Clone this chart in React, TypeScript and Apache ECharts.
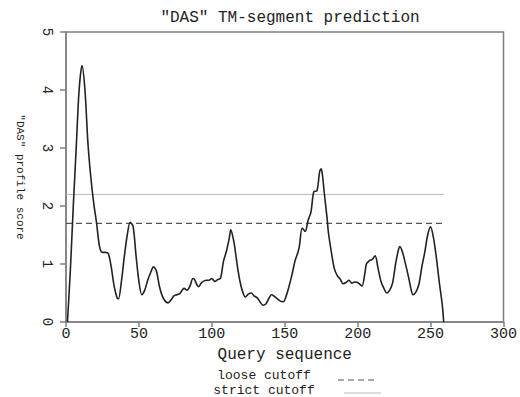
import React, { useEffect, useRef } from "react";
import * as echarts from "echarts";

const title = '"DAS" TM-segment prediction';
const xName = "Query sequence";
const yName = '"DAS" profile score';
const legendLabels = ["loose cutoff", "strict cutoff"];

const positions = [
  1, 3, 5, 7, 9, 11, 13, 15, 17, 19, 21, 23, 25, 27, 29, 31, 33, 35, 36, 38,
  40, 42, 44, 46, 48, 50, 52, 54, 56, 58, 60, 62, 64, 66, 68, 70, 72, 74, 76, 78,
  80, 81, 83, 85, 87, 88, 90, 91, 93, 96, 98, 100, 102, 104, 106, 108, 110, 112, 113, 115,
  116, 118, 120, 122, 123, 125, 127, 129, 131, 133, 135, 137, 139, 141, 143, 145, 147, 149, 151, 153,
  155, 157, 159, 160, 162, 164, 166, 168, 170, 172, 174, 175, 176, 177, 179, 180, 182, 184, 186, 188,
  190, 192, 194, 196, 198, 200, 201, 203, 205, 206, 208, 210, 212, 214, 216, 218, 220, 222, 224, 226,
  228, 229, 231, 233, 235, 237, 238, 240, 242, 244, 246, 248, 250, 252, 254, 256, 258, 259,
];
const scores = [
  0.0, 0.9, 2.0, 3.0, 4.0, 4.42, 4.0, 3.1, 2.5, 2.05, 1.7, 1.3, 1.2, 1.2, 1.18, 0.95, 0.62, 0.42, 0.4, 0.7,
  1.13, 1.5, 1.72, 1.65, 1.15, 0.7, 0.47, 0.55, 0.72, 0.85, 0.95, 0.88, 0.62, 0.45, 0.36, 0.33, 0.38, 0.45, 0.47, 0.49,
  0.56, 0.58, 0.55, 0.62, 0.75, 0.74, 0.63, 0.61, 0.68, 0.72, 0.72, 0.75, 0.7, 0.73, 0.76, 1.05, 1.22, 1.45, 1.59, 1.4,
  1.24, 0.88, 0.62, 0.46, 0.43, 0.48, 0.5, 0.45, 0.42, 0.35, 0.29, 0.31, 0.4, 0.47, 0.44, 0.4, 0.36, 0.35, 0.45, 0.62,
  0.82, 1.05, 1.2, 1.3, 1.62, 1.56, 1.75, 1.9, 2.25, 2.26, 2.6, 2.64, 2.5, 2.25, 1.8, 1.53, 1.2, 0.92, 0.8, 0.74,
  0.66, 0.68, 0.72, 0.67, 0.69, 0.68, 0.66, 0.62, 0.85, 1.0, 1.06, 1.08, 1.14, 0.92, 0.7, 0.58, 0.5, 0.55, 0.68, 1.0,
  1.25, 1.3, 1.18, 0.98, 0.76, 0.52, 0.47, 0.52, 0.65, 0.95, 1.2, 1.5, 1.64, 1.45, 1.1, 0.68, 0.3, 0.0,
];
const looseCutoff = 1.7;
const strictCutoff = 2.2;
const cutoffStart = 0;
const cutoffEnd = 259;
const xTicks = [0, 300, 50];
const yTicks = [0, 5, 1];

const FONT = "'Liberation Mono', 'DejaVu Sans Mono', monospace";

export default function App() {
  const ref = useRef<HTMLDivElement>(null);
  useEffect(() => {
    if (!ref.current) return;
    const chart = echarts.init(ref.current, null, { renderer: "svg" });
    const axisColor = "#808080";
    const textColor = "#222";
    chart.setOption({
      animation: false,
      backgroundColor: "#fff",
      title: {
        text: title,
        left: 285,
        textAlign: "center",
        top: 5,
        textStyle: { fontFamily: FONT, fontSize: 16, fontWeight: "normal", color: textColor },
      },
      grid: {
        left: 66,
        right: 15,
        top: 32,
        bottom: 75,
        show: true,
        borderColor: axisColor,
        borderWidth: 1.5,
        backgroundColor: "transparent",
      },
      xAxis: {
        type: "value",
        min: xTicks[0],
        max: xTicks[1],
        interval: xTicks[2],
        name: xName,
        nameLocation: "middle",
        nameGap: 24,
        nameTextStyle: { fontFamily: FONT, fontSize: 16, color: textColor },
        axisLine: { show: true, lineStyle: { color: axisColor, width: 1.5 } },
        axisTick: { show: true, length: 5, lineStyle: { color: axisColor, width: 1.5 } },
        axisLabel: { fontFamily: FONT, fontSize: 15, color: textColor, margin: 5 },
        splitLine: { show: false },
      },
      yAxis: {
        type: "value",
        min: yTicks[0],
        max: yTicks[1],
        interval: yTicks[2],
        name: yName,
        nameLocation: "middle",
        nameRotate: -90,
        nameGap: 41,
        nameTextStyle: { fontFamily: FONT, fontSize: 11, color: textColor },
        axisLine: { show: true, lineStyle: { color: axisColor, width: 1.5 } },
        axisTick: { show: true, length: 6, lineStyle: { color: axisColor, width: 1.5 } },
        axisLabel: { fontFamily: FONT, fontSize: 14, color: textColor, rotate: -90, margin: 12 },
        splitLine: { show: false },
      },
      series: [
        {
          name: "strict cutoff",
          type: "line",
          symbol: "none",
          data: [
            [cutoffStart, strictCutoff],
            [cutoffEnd, strictCutoff],
          ],
          lineStyle: { color: "#b8b8b8", width: 1 },
          z: 1,
        },
        {
          name: "loose cutoff",
          type: "line",
          symbol: "none",
          data: [
            [cutoffStart, looseCutoff],
            [cutoffEnd, looseCutoff],
          ],
          lineStyle: { color: "#555", width: 1.2, type: [6, 4] },
          z: 1,
        },
        {
          name: "DAS",
          type: "line",
          symbol: "none",
          smooth: 0.3,
          data: positions.map((p, i) => [p, scores[i]]),
          lineStyle: { color: "#222", width: 1.6 },
          z: 3,
        },
      ],
      graphic: [
        {
          type: "text",
          x: 264,
          y: 375,
          style: {
            text: legendLabels[0],
            font: `13px ${FONT}`,
            fill: textColor,
            align: "center",
            verticalAlign: "middle",
          },
        },
        {
          type: "line",
          shape: { x1: 338, y1: 380, x2: 376, y2: 380 },
          style: { stroke: "#555", lineWidth: 1.2, lineDash: [6, 4] },
        },
        {
          type: "text",
          x: 264,
          y: 390,
          style: {
            text: legendLabels[1],
            font: `13px ${FONT}`,
            fill: textColor,
            align: "center",
            verticalAlign: "middle",
          },
        },
        {
          type: "line",
          shape: { x1: 344, y1: 393, x2: 381, y2: 393 },
          style: { stroke: "#b8b8b8", lineWidth: 1 },
        },
      ],
    });
    return () => chart.dispose();
  }, []);
  return (
    <div
      ref={ref}
      style={{ position: "absolute", left: 0, top: 0, width: 520, height: 397 }}
    />
  );
}
